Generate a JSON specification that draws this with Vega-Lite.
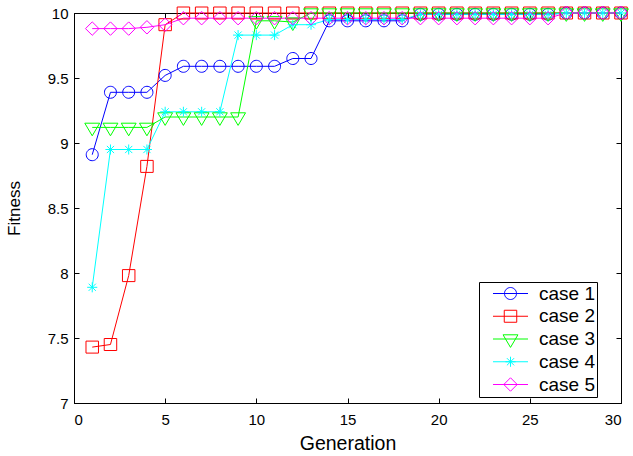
{
  "$schema": "https://vega.github.io/schema/vega-lite/v6.json",
  "width": 547,
  "height": 390,
  "autosize": {"type": "none"},
  "padding": {"left": 74, "top": 13, "right": 12, "bottom": 53},
  "background": "white",
  "config": {
    "view": {"stroke": "black", "strokeWidth": 1},
    "font": "Liberation Sans",
    "axis": {
      "grid": false,
      "domainColor": "black",
      "tickColor": "black",
      "tickSize": -5,
      "labelFont": "Liberation Sans",
      "labelFontSize": 15,
      "labelColor": "black",
      "titleFont": "Liberation Sans",
      "titleColor": "black",
      "titleFontWeight": "normal"
    }
  },
  "data": {
    "values": [
      {"g": 1, "fit": 8.91, "case": "case 1"}, {"g": 2, "fit": 9.39, "case": "case 1"}, {"g": 3, "fit": 9.39, "case": "case 1"}, {"g": 4, "fit": 9.39, "case": "case 1"}, {"g": 5, "fit": 9.52, "case": "case 1"},
      {"g": 6, "fit": 9.59, "case": "case 1"}, {"g": 7, "fit": 9.59, "case": "case 1"}, {"g": 8, "fit": 9.59, "case": "case 1"}, {"g": 9, "fit": 9.59, "case": "case 1"}, {"g": 10, "fit": 9.59, "case": "case 1"},
      {"g": 11, "fit": 9.59, "case": "case 1"}, {"g": 12, "fit": 9.65, "case": "case 1"}, {"g": 13, "fit": 9.65, "case": "case 1"}, {"g": 14, "fit": 9.94, "case": "case 1"}, {"g": 15, "fit": 9.94, "case": "case 1"},
      {"g": 16, "fit": 9.94, "case": "case 1"}, {"g": 17, "fit": 9.94, "case": "case 1"}, {"g": 18, "fit": 9.94, "case": "case 1"}, {"g": 19, "fit": 9.99, "case": "case 1"}, {"g": 20, "fit": 9.99, "case": "case 1"},
      {"g": 21, "fit": 9.99, "case": "case 1"}, {"g": 22, "fit": 9.99, "case": "case 1"}, {"g": 23, "fit": 9.99, "case": "case 1"}, {"g": 24, "fit": 9.99, "case": "case 1"}, {"g": 25, "fit": 9.99, "case": "case 1"},
      {"g": 26, "fit": 9.99, "case": "case 1"}, {"g": 27, "fit": 10, "case": "case 1"}, {"g": 28, "fit": 10, "case": "case 1"}, {"g": 29, "fit": 10, "case": "case 1"}, {"g": 30, "fit": 10, "case": "case 1"},

      {"g": 1, "fit": 7.43, "case": "case 2"}, {"g": 2, "fit": 7.45, "case": "case 2"}, {"g": 3, "fit": 7.98, "case": "case 2"}, {"g": 4, "fit": 8.82, "case": "case 2"}, {"g": 5, "fit": 9.91, "case": "case 2"},
      {"g": 6, "fit": 10, "case": "case 2"}, {"g": 7, "fit": 10, "case": "case 2"}, {"g": 8, "fit": 10, "case": "case 2"}, {"g": 9, "fit": 10, "case": "case 2"}, {"g": 10, "fit": 10, "case": "case 2"},
      {"g": 11, "fit": 10, "case": "case 2"}, {"g": 12, "fit": 10, "case": "case 2"}, {"g": 13, "fit": 10, "case": "case 2"}, {"g": 14, "fit": 10, "case": "case 2"}, {"g": 15, "fit": 10, "case": "case 2"},
      {"g": 16, "fit": 10, "case": "case 2"}, {"g": 17, "fit": 10, "case": "case 2"}, {"g": 18, "fit": 10, "case": "case 2"}, {"g": 19, "fit": 10, "case": "case 2"}, {"g": 20, "fit": 10, "case": "case 2"},
      {"g": 21, "fit": 10, "case": "case 2"}, {"g": 22, "fit": 10, "case": "case 2"}, {"g": 23, "fit": 10, "case": "case 2"}, {"g": 24, "fit": 10, "case": "case 2"}, {"g": 25, "fit": 10, "case": "case 2"},
      {"g": 26, "fit": 10, "case": "case 2"}, {"g": 27, "fit": 10, "case": "case 2"}, {"g": 28, "fit": 10, "case": "case 2"}, {"g": 29, "fit": 10, "case": "case 2"}, {"g": 30, "fit": 10, "case": "case 2"},

      {"g": 1, "fit": 9.12, "case": "case 3"}, {"g": 2, "fit": 9.12, "case": "case 3"}, {"g": 3, "fit": 9.12, "case": "case 3"}, {"g": 4, "fit": 9.12, "case": "case 3"}, {"g": 5, "fit": 9.2, "case": "case 3"},
      {"g": 6, "fit": 9.2, "case": "case 3"}, {"g": 7, "fit": 9.2, "case": "case 3"}, {"g": 8, "fit": 9.2, "case": "case 3"}, {"g": 9, "fit": 9.2, "case": "case 3"}, {"g": 10, "fit": 9.94, "case": "case 3"},
      {"g": 11, "fit": 9.94, "case": "case 3"}, {"g": 12, "fit": 9.93, "case": "case 3"}, {"g": 13, "fit": 10, "case": "case 3"}, {"g": 14, "fit": 10, "case": "case 3"}, {"g": 15, "fit": 10, "case": "case 3"},
      {"g": 16, "fit": 10, "case": "case 3"}, {"g": 17, "fit": 10, "case": "case 3"}, {"g": 18, "fit": 10, "case": "case 3"}, {"g": 19, "fit": 10, "case": "case 3"}, {"g": 20, "fit": 10, "case": "case 3"},
      {"g": 21, "fit": 10, "case": "case 3"}, {"g": 22, "fit": 10, "case": "case 3"}, {"g": 23, "fit": 10, "case": "case 3"}, {"g": 24, "fit": 10, "case": "case 3"}, {"g": 25, "fit": 10, "case": "case 3"},
      {"g": 26, "fit": 10, "case": "case 3"}, {"g": 27, "fit": 10, "case": "case 3"}, {"g": 28, "fit": 10, "case": "case 3"}, {"g": 29, "fit": 10, "case": "case 3"}, {"g": 30, "fit": 10, "case": "case 3"},

      {"g": 1, "fit": 7.89, "case": "case 4"}, {"g": 2, "fit": 8.95, "case": "case 4"}, {"g": 3, "fit": 8.95, "case": "case 4"}, {"g": 4, "fit": 8.95, "case": "case 4"}, {"g": 5, "fit": 9.24, "case": "case 4"},
      {"g": 6, "fit": 9.24, "case": "case 4"}, {"g": 7, "fit": 9.24, "case": "case 4"}, {"g": 8, "fit": 9.24, "case": "case 4"}, {"g": 9, "fit": 9.83, "case": "case 4"}, {"g": 10, "fit": 9.83, "case": "case 4"},
      {"g": 11, "fit": 9.83, "case": "case 4"}, {"g": 12, "fit": 9.91, "case": "case 4"}, {"g": 13, "fit": 9.91, "case": "case 4"}, {"g": 14, "fit": 9.95, "case": "case 4"}, {"g": 15, "fit": 9.95, "case": "case 4"},
      {"g": 16, "fit": 9.95, "case": "case 4"}, {"g": 17, "fit": 9.95, "case": "case 4"}, {"g": 18, "fit": 9.95, "case": "case 4"}, {"g": 19, "fit": 9.99, "case": "case 4"}, {"g": 20, "fit": 9.99, "case": "case 4"},
      {"g": 21, "fit": 9.99, "case": "case 4"}, {"g": 22, "fit": 9.99, "case": "case 4"}, {"g": 23, "fit": 9.99, "case": "case 4"}, {"g": 24, "fit": 9.99, "case": "case 4"}, {"g": 25, "fit": 9.99, "case": "case 4"},
      {"g": 26, "fit": 9.99, "case": "case 4"}, {"g": 27, "fit": 10, "case": "case 4"}, {"g": 28, "fit": 10, "case": "case 4"}, {"g": 29, "fit": 10, "case": "case 4"}, {"g": 30, "fit": 10, "case": "case 4"},

      {"g": 1, "fit": 9.88, "case": "case 5"}, {"g": 2, "fit": 9.88, "case": "case 5"}, {"g": 3, "fit": 9.88, "case": "case 5"}, {"g": 4, "fit": 9.89, "case": "case 5"}, {"g": 5, "fit": 9.91, "case": "case 5"},
      {"g": 6, "fit": 9.96, "case": "case 5"}, {"g": 7, "fit": 9.96, "case": "case 5"}, {"g": 8, "fit": 9.96, "case": "case 5"}, {"g": 9, "fit": 9.96, "case": "case 5"}, {"g": 10, "fit": 9.96, "case": "case 5"},
      {"g": 11, "fit": 9.96, "case": "case 5"}, {"g": 12, "fit": 9.96, "case": "case 5"}, {"g": 13, "fit": 9.96, "case": "case 5"}, {"g": 14, "fit": 9.96, "case": "case 5"}, {"g": 15, "fit": 9.96, "case": "case 5"},
      {"g": 16, "fit": 9.96, "case": "case 5"}, {"g": 17, "fit": 9.96, "case": "case 5"}, {"g": 18, "fit": 9.96, "case": "case 5"}, {"g": 19, "fit": 9.96, "case": "case 5"}, {"g": 20, "fit": 9.96, "case": "case 5"},
      {"g": 21, "fit": 9.96, "case": "case 5"}, {"g": 22, "fit": 9.96, "case": "case 5"}, {"g": 23, "fit": 9.96, "case": "case 5"}, {"g": 24, "fit": 9.96, "case": "case 5"}, {"g": 25, "fit": 9.96, "case": "case 5"},
      {"g": 26, "fit": 9.96, "case": "case 5"}, {"g": 27, "fit": 10, "case": "case 5"}, {"g": 28, "fit": 10, "case": "case 5"}, {"g": 29, "fit": 10, "case": "case 5"}, {"g": 30, "fit": 10, "case": "case 5"}
    ]
  },
  "layer": [
    {
      "mark": {"type": "line", "strokeWidth": 1, "clip": false},
      "encoding": {
        "x": {"field": "g", "type": "quantitative", "scale": {"domain": [0, 30], "nice": false, "zero": false},
              "axis": {"orient": "bottom", "values": [0, 5, 10, 15, 20, 25, 30], "title": "Generation", "titleFontSize": 19.5, "titlePadding": 7, "labelPadding": 14}},
        "y": {"field": "fit", "type": "quantitative", "scale": {"domain": [7, 10], "nice": false, "zero": false},
              "axis": {"orient": "left", "values": [7, 7.5, 8, 8.5, 9, 9.5, 10], "format": "~g", "title": "Fitness", "titleFontSize": 17, "titlePadding": 24, "labelPadding": 11}},
        "color": {"field": "case", "type": "nominal", "legend": null,
                  "scale": {"domain": ["case 1", "case 2", "case 3", "case 4", "case 5"], "range": ["#0000ff", "#ff0000", "#00ff00", "#00ffff", "#ff00ff"]}},
        "order": {"field": "g", "type": "quantitative"}
      }
    },
    {
      "mark": {"type": "point", "filled": false, "strokeWidth": 1, "size": 576, "opacity": 1, "clip": false},
      "encoding": {
        "x": {"field": "g", "type": "quantitative", "axis": null},
        "y": {"field": "fit", "type": "quantitative", "axis": null},
        "color": {"field": "case", "type": "nominal", "legend": null},
        "shape": {"field": "case", "type": "nominal", "legend": null,
                  "scale": {"domain": ["case 1", "case 2", "case 3", "case 4", "case 5"],
                            "range": [
                              "M0.5,0A0.5,0.5,0,1,1,-0.5,0A0.5,0.5,0,1,1,0.5,0Z",
                              "M-0.52,-0.5H0.52V0.5H-0.52Z",
                              "M-0.62,-0.35H0.62L0,0.7Z",
                              "M-0.42,0H0.42M0,-0.42V0.42M-0.3,-0.3L0.3,0.3M-0.3,0.3L0.3,-0.3",
                              "M0,-0.56L0.56,0L0,0.56L-0.56,0Z"
                            ]}}
      }
    },
    {
      "transform": [{"filter": "datum.g < 0"}],
      "mark": {"type": "point", "filled": false, "strokeWidth": 1, "size": 144, "opacity": 1},
      "encoding": {
        "x": {"field": "g", "type": "quantitative", "axis": null},
        "y": {"field": "fit", "type": "quantitative", "axis": null},
        "stroke": {"field": "case", "type": "nominal",
                   "scale": {"domain": ["case 1", "case 2", "case 3", "case 4", "case 5"], "range": ["#0000ff", "#ff0000", "#00ff00", "#00ffff", "#ff00ff"]},
                   "legend": {"orient": "none", "legendX": 405, "legendY": 269, "title": null,
                              "strokeColor": "black", "fillColor": "white", "padding": 2,
                              "labelFontSize": 19, "labelFont": "Liberation Sans", "labelColor": "black",
                              "labelExpr": "datum.label + '\u00a0\u00a0\u00a0\u00a0\u00a0'",
                              "symbolStrokeWidth": 1, "symbolSize": 144, "symbolOffset": 20, "labelOffset": 19, "rowPadding": 2.75}},
        "shape": {"field": "case", "type": "nominal",
                  "scale": {"domain": ["case 1", "case 2", "case 3", "case 4", "case 5"],
                            "range": [
                              "M-2.917,0H2.917M1,0A1,1,0,1,1,-1,0A1,1,0,1,1,1,0Z",
                              "M-2.917,0H2.917M-1.04,-1H1.04V1H-1.04Z",
                              "M-2.917,0H2.917M-1.24,-0.7H1.24L0,1.4Z",
                              "M-2.917,0H2.917M-0.84,0H0.84M0,-0.84V0.84M-0.6,-0.6L0.6,0.6M-0.6,0.6L0.6,-0.6",
                              "M-2.917,0H2.917M0,-1.12L1.12,0L0,1.12L-1.12,0Z"
                            ]},
                  "legend": {"orient": "none", "legendX": 405, "legendY": 269, "title": null,
                              "strokeColor": "black", "fillColor": "white", "padding": 2,
                              "labelFontSize": 19, "labelFont": "Liberation Sans", "labelColor": "black",
                              "labelExpr": "datum.label + '\u00a0\u00a0\u00a0\u00a0\u00a0'",
                              "symbolStrokeWidth": 1, "symbolSize": 144, "symbolOffset": 20, "labelOffset": 19, "rowPadding": 2.75}}
      }
    },
    {
      "transform": [{"filter": "datum.g < 0"}],
      "mark": {"type": "point", "opacity": 0},
      "encoding": {
        "x": {"field": "g", "type": "quantitative",
              "axis": {"orient": "top", "values": [0, 5, 10, 15, 20, 25, 30], "labels": false, "title": null, "domain": false}},
        "y": {"field": "fit", "type": "quantitative",
              "axis": {"orient": "right", "values": [7, 7.5, 8, 8.5, 9, 9.5, 10], "labels": false, "title": null, "domain": false}}
      }
    }
  ],
  "resolve": {
    "scale": {"shape": "independent", "stroke": "independent"},
    "legend": {"shape": "independent", "stroke": "independent"},
    "axis": {"x": "independent", "y": "independent"}
  }
}
